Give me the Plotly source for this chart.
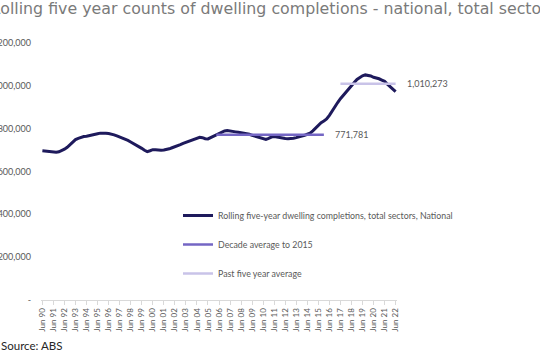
import plotly.graph_objects as go

# ---------------- data ----------------
quarter_months = ["Jun", "Sep", "Dec", "Mar"]
start_year = 1990
n_quarters = 129  # Jun 90 .. Jun 22

rolling_completions = [
    697, 695, 693, 691, 690, 690, 692, 697, 704, 713, 726, 739, 749, 755, 760, 763,
    765, 767, 769, 772, 776, 779, 780, 779, 777, 775, 771, 766, 761, 757, 751, 745,
    738, 731, 724, 716, 708, 699, 693, 697, 702, 701, 699, 699, 700, 702, 706, 711,
    715, 719, 725, 731, 736, 739, 745, 751, 757, 760, 758, 753, 752, 758, 765, 772,
    779, 785, 789, 791, 790, 788, 785, 783, 781, 780, 778, 774, 769, 765, 761, 756,
    751, 750, 755, 761, 763, 760, 757, 755, 754, 753, 753, 755, 758, 761, 764, 769,
    774, 779, 790, 803, 818, 828, 836, 845, 862, 884, 904, 922, 940, 956, 972, 986,
    1000, 1016, 1030, 1040, 1047, 1051, 1050, 1046, 1040, 1037, 1033, 1027, 1021, 1008, 997, 983,
    973,
]
rolling_completions = [v * 1000 for v in rolling_completions]

decade_average = 771781
decade_first, decade_last = 63, 102      # quarter indices
past5_average = 1010273
past5_first, past5_last = 108, 128

y_tick_values = [0, 200000, 400000, 600000, 800000, 1000000, 1200000]
y_tick_labels = ["-", "200,000", "400,000", "600,000", "800,000", "1,000,000", "1,200,000"]

series_names = [
    "Rolling five-year dwelling completions, total sectors, National",
    "Decade average to 2015",
    "Past five year average",
]
title_text = "Rolling five year counts of dwelling completions - national, total sectors"
source_text = "Source: ABS"

# category labels (quarters)
categories = []
for i in range(n_quarters):
    m = quarter_months[i % 4]
    yr = start_year + (i + 2) // 4 if m == "Mar" else start_year + i // 4
    categories.append(f"{m} {yr % 100:02d}")
jun_ticks = [c for c in categories if c.startswith("Jun")]

# ---------------- layout geometry ----------------
W, H = 540, 360
ML, MR, MT, MB = 41, 143, 43, 60
PW, PH = W - ML - MR, H - MT - MB


def px_x(px):
    return (px - ML) / PW


def px_y(py):
    return (H - MB - py) / PH


TEXT = "#595959"
C_MAIN = "#1e1a5c"
C_DEC = "#7466c4"
C_P5 = "#c9c3e8"

fig = go.Figure()
fig.add_trace(go.Scatter(
    x=categories, y=rolling_completions, mode="lines", name=series_names[0],
    line=dict(color=C_MAIN, width=3), legendgroup="a"))
fig.add_trace(go.Scatter(
    x=categories[decade_first:decade_last + 1],
    y=[decade_average] * (decade_last - decade_first + 1),
    mode="lines", name=series_names[1], line=dict(color=C_DEC, width=2.5), legendgroup="b"))
fig.add_trace(go.Scatter(
    x=categories[past5_first:past5_last + 1],
    y=[past5_average] * (past5_last - past5_first + 1),
    mode="lines", name=series_names[2], line=dict(color=C_P5, width=2.5), legendgroup="c"))

annotations = [
    dict(x=categories[decade_last], y=decade_average, xref="x", yref="y",
         text=f"{decade_average:,}", showarrow=False, xanchor="left", xshift=9,
         font=dict(family="Lato", size=9, color=TEXT)),
    dict(x=categories[past5_last], y=past5_average, xref="x", yref="y",
         text=f"{past5_average:,}", showarrow=False, xanchor="left", xshift=9,
         font=dict(family="Lato", size=9, color=TEXT)),
    dict(x=px_x(-12.5), y=px_y(8), xref="paper", yref="paper", text=title_text,
         showarrow=False, xanchor="left", yanchor="middle",
         font=dict(family="DejaVu Sans", size=15.8, color="#7a7a7a")),
    dict(x=px_x(-1), y=px_y(345), xref="paper", yref="paper", text=source_text,
         showarrow=False, xanchor="left", yanchor="middle",
         font=dict(family="Lato", size=11.5, color="#262626")),
]

fig.update_layout(
    width=W, height=H,
    margin=dict(l=ML, r=MR, t=MT, b=MB, autoexpand=False),
    paper_bgcolor="white", plot_bgcolor="white",
    showlegend=True,
    legend=dict(x=px_x(178), y=px_y(201), xanchor="left", yanchor="top",
                bgcolor="rgba(0,0,0,0)", font=dict(family="Lato", size=8.8, color=TEXT),
                tracegroupgap=10),
    annotations=annotations,
)
fig.update_xaxes(
    type="category", categoryorder="array", categoryarray=categories,
    range=[-0.5, n_quarters - 0.5],
    tickmode="array", tickvals=jun_ticks, ticktext=jun_ticks,
    tickangle=-90, tickfont=dict(family="Lato", size=8, color=TEXT),
    showline=True, linecolor="#d9d9d9", linewidth=1,
    ticks="outside", ticklen=4, tickcolor="#d9d9d9",
    showgrid=False, zeroline=False, automargin=False,
)
fig.update_yaxes(
    range=[0, 1200000], tickmode="array", tickvals=y_tick_values, ticktext=y_tick_labels,
    tickfont=dict(family="Lato", size=9, color=TEXT), ticklabelstandoff=9,
    showgrid=False, zeroline=False, showline=False, automargin=False,
)

fig.write_html("out.html", config={"displayModeBar": False},
               post_script="document.body.style.margin='0';")
